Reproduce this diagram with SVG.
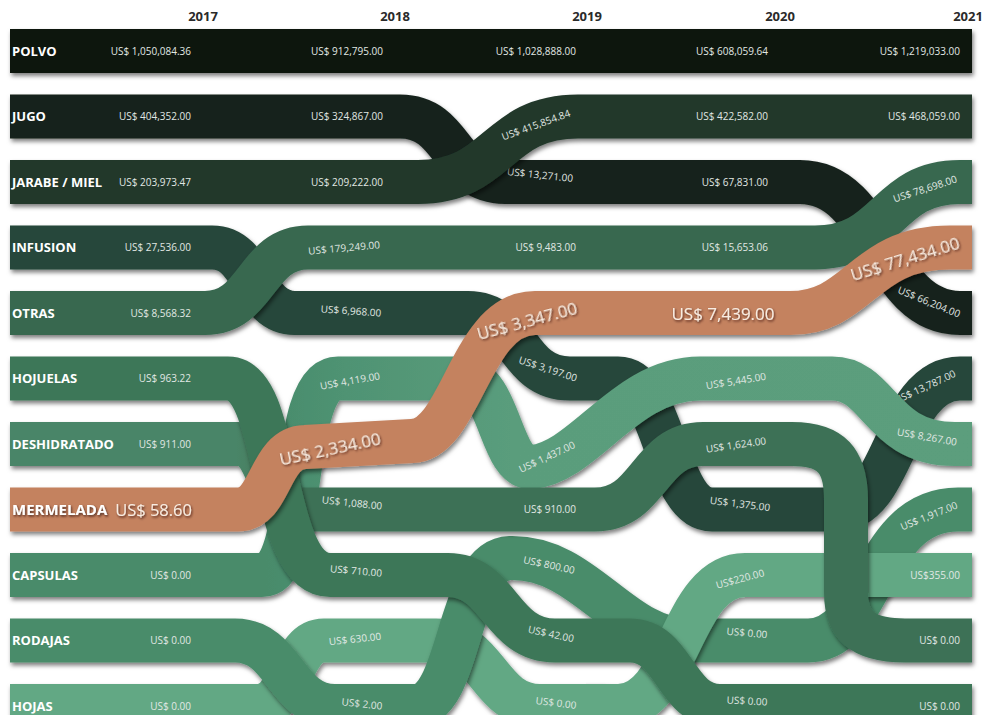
<svg xmlns="http://www.w3.org/2000/svg" width="986" height="715" viewBox="0 0 986 715">
  <defs>
    <!-- soft shadow under every ribbon; user-space region so flat (zero-height) paths still render -->
    <filter id="drop" filterUnits="userSpaceOnUse" x="0" y="0" width="986" height="715">
      <feDropShadow dx="1.5" dy="3" stdDeviation="2.2" flood-color="#000" flood-opacity="0.5"/>
    </filter>
    <filter id="lift" filterUnits="userSpaceOnUse" x="0" y="0" width="986" height="715">
      <feDropShadow dx="1" dy="1.5" stdDeviation="1" flood-color="#2a140a" flood-opacity="0.75"/>
    </filter>
    <linearGradient id="g-desh" gradientUnits="userSpaceOnUse" x1="0" y1="0" x2="986" y2="0">
      <stop offset="0" stop-color="#4a8567"/>
      <stop offset="0.24" stop-color="#4a8567"/>
      <stop offset="0.31" stop-color="#3d7156"/>
      <stop offset="1" stop-color="#3d7156"/>
    </linearGradient>
    <linearGradient id="g-caps" gradientUnits="userSpaceOnUse" x1="0" y1="0" x2="986" y2="0">
      <stop offset="0" stop-color="#488b6b"/>
      <stop offset="0.27" stop-color="#488b6b"/>
      <stop offset="0.35" stop-color="#4f9373"/>
      <stop offset="0.52" stop-color="#5a9d7c"/>
      <stop offset="1" stop-color="#5b9e7d"/>
    </linearGradient>
    <!-- keeps the later HOJAS segment from showing its cut end -->
    <clipPath id="clip-hojas-right">
      <rect x="586" y="0" width="400" height="715"/>
    </clipPath>
  </defs>
  <style>
    .band{fill:none;stroke-width:44;stroke-linecap:butt;stroke-linejoin:round;filter:url(#drop)}
    .cat{font-family:"Open Sans","Liberation Sans",sans-serif;font-weight:700;font-size:13px;fill:#ffffff}
    .val{font-family:"Open Sans","Liberation Sans",sans-serif;font-size:10px;fill:#e1e8e4}
    .end{text-anchor:end}
    .mid{text-anchor:middle}
    .big{font-family:"Open Sans","Liberation Sans",sans-serif;font-size:17px;fill:#f8ece2;filter:url(#lift)}
    .yr{font-family:"Open Sans","Liberation Sans",sans-serif;font-weight:700;font-size:13px;fill:#2a2a2a;text-anchor:middle}
  </style>

  <rect width="986" height="715" fill="#ffffff"/>

  <!-- year headers -->
  <g id="years">
    <text class="yr" x="203" y="21">2017</text>
    <text class="yr" x="395" y="21">2018</text>
    <text class="yr" x="587" y="21">2019</text>
    <text class="yr" x="780" y="21">2020</text>
    <text class="yr" x="968" y="21">2021</text>
  </g>

  <!-- ribbons, back to front -->
  <g id="polvo">
    <path class="band" stroke="#0b120e" d="M10,51 H972"/>
    <text class="cat" x="12" y="55.5">POLVO</text>
    <text class="val end" x="191" y="54.5">US$ 1,050,084.36</text>
    <text class="val end" x="383" y="54.5">US$ 912,795.00</text>
    <text class="val end" x="576" y="54.5">US$ 1,028,888.00</text>
    <text class="val end" x="768" y="54.5">US$ 608,059.64</text>
    <text class="val end" x="960" y="54.5">US$ 1,219,033.00</text>
  </g>

  <g id="jugo">
    <path class="band" stroke="#16231c" d="M10,116.5 H400 C455,116.5 450,182 505,182 H800 C880,182 880,313 960,313 H972"/>
    <text class="cat" x="12" y="121">JUGO</text>
    <text class="val end" x="191" y="120">US$ 404,352.00</text>
    <text class="val end" x="383" y="120">US$ 324,867.00</text>
    <text class="val mid" x="540" y="175" dy="0.35em" transform="rotate(6 540 175)">US$ 13,271.00</text>
    <text class="val end" x="768" y="185.5">US$ 67,831.00</text>
    <text class="val mid" x="929" y="302" dy="0.35em" transform="rotate(22 929 302)">US$ 66,204.00</text>
  </g>

  <g id="jarabe-miel">
    <path class="band" stroke="#21382b" d="M10,182 H418 C500,182 495,116.5 578,116.5 H972"/>
    <text class="cat" x="12" y="186.5">JARABE / MIEL</text>
    <text class="val end" x="191" y="185.5">US$ 203,973.47</text>
    <text class="val end" x="383" y="185.5">US$ 209,222.00</text>
    <text class="val mid" x="536" y="125" dy="0.35em" transform="rotate(-20 536 125)">US$ 415,854.84</text>
    <text class="val end" x="768" y="120">US$ 422,582.00</text>
    <text class="val end" x="960" y="120">US$ 468,059.00</text>
  </g>

  <g id="infusion">
    <path class="band" stroke="#26463a" d="M10,247.5 H212 C255,247.5 252,313 295,313 H468 C520,313 515,378.5 570,378.5 H618 C665,378.5 665,509.5 712,509.5 H838 C895,509.5 895,378.5 960,378.5 H972"/>
    <text class="cat" x="12" y="252">INFUSION</text>
    <text class="val end" x="191" y="251">US$ 27,536.00</text>
    <text class="val mid" x="351" y="311" dy="0.35em" transform="rotate(4 351 311)">US$ 6,968.00</text>
    <text class="val mid" x="548" y="369" dy="0.35em" transform="rotate(18 548 369)">US$ 3,197.00</text>
    <text class="val mid" x="740" y="504" dy="0.35em" transform="rotate(7 740 504)">US$ 1,375.00</text>
    <text class="val mid" x="925" y="387" dy="0.35em" transform="rotate(-25 925 387)">US$ 13,787.00</text>
  </g>

  <g id="otras">
    <path class="band" stroke="#386850" d="M10,313 H205 C258,313 255,247.5 308,247.5 H815 C890,247.5 885,182 960,182 H972"/>
    <text class="cat" x="12" y="317.5">OTRAS</text>
    <text class="val end" x="191" y="316.5">US$ 8,568.32</text>
    <text class="val mid" x="344" y="248" dy="0.35em" transform="rotate(-5 344 248)">US$ 179,249.00</text>
    <text class="val end" x="576" y="251">US$ 9,483.00</text>
    <text class="val end" x="768" y="251">US$ 15,653.06</text>
    <text class="val mid" x="925" y="189" dy="0.35em" transform="rotate(-18 925 189)">US$ 78,698.00</text>
  </g>

  <g id="hojas">
    <path class="band" stroke="#62a884" d="M10,706 H258 C292,706 290,640.5 324,640.5 H436 C488,640.5 488,706 540,706 H605"/>
    <text class="cat" x="12" y="710.5">HOJAS</text>
    <text class="val end" x="191" y="709.5">US$ 0.00</text>
    <text class="val mid" x="355" y="639" dy="0.35em" transform="rotate(-6 355 639)">US$ 630.00</text>
    <text class="val mid" x="556" y="703" dy="0.35em" transform="rotate(7 556 703)">US$ 0.00</text>
  </g>

  <g id="rodajas">
    <path class="band" stroke="#4a8c6b" d="M10,640.5 H235 C285,640.5 285,706 335,706 H415 C462,706 456,560 510,558 C585,556 620,640.5 690,640.5 H808 C875,640.5 870,509.5 958,509.5 H972"/>
    <text class="cat" x="12" y="645">RODAJAS</text>
    <text class="val end" x="191" y="644">US$ 0.00</text>
    <text class="val mid" x="362" y="704" dy="0.35em" transform="rotate(6 362 704)">US$ 2.00</text>
    <text class="val mid" x="549" y="565" dy="0.35em" transform="rotate(12 549 565)">US$ 800.00</text>
    <text class="val mid" x="747" y="633" dy="0.35em" transform="rotate(5 747 633)">US$ 0.00</text>
    <text class="val mid" x="929" y="516" dy="0.35em" transform="rotate(-22 929 516)">US$ 1,917.00</text>
  </g>

  <g id="hojas-2020" clip-path="url(#clip-hojas-right)">
    <path class="band" stroke="#62a884" d="M548,706 H618 C680,706 680,575 745,575 H972"/>
    <text class="val mid" x="740" y="579" dy="0.35em" transform="rotate(-15 740 579)">US$220.00</text>
    <text class="val end" x="960" y="578.5">US$355.00</text>
  </g>

  <g id="capsulas">
    <path class="band" stroke="url(#g-caps)" d="M10,575 H262 C308,575 288,378.5 338,378.5 H462 C500,378.5 500,470 532,467 C585,462 625,378.5 700,378.5 H832 C880,378.5 880,444 955,444 H972"/>
    <text class="cat" x="12" y="579.5">CAPSULAS</text>
    <text class="val end" x="191" y="578.5">US$ 0.00</text>
    <text class="val mid" x="350" y="381" dy="0.35em" transform="rotate(-10 350 381)">US$ 4,119.00</text>
    <text class="val mid" x="547" y="457" dy="0.35em" transform="rotate(-25 547 457)">US$ 1,437.00</text>
    <text class="val mid" x="736" y="381" dy="0.35em" transform="rotate(-9 736 381)">US$ 5,445.00</text>
    <text class="val mid" x="927" y="437" dy="0.35em" transform="rotate(10 927 437)">US$ 8,267.00</text>
  </g>

  <g id="deshidratado">
    <path class="band" stroke="url(#g-desh)" d="M10,444 H238 C272,444 265,509.5 302,509.5 H595 C650,509.5 648,444 703,444 H792 C833,444 846,462 846,500 L846,592 C846,628 866,640.5 905,640.5 H972"/>
    <text class="cat" x="12" y="448.5">DESHIDRATADO</text>
    <text class="val end" x="191" y="447.5">US$ 911.00</text>
    <text class="val mid" x="352" y="503" dy="0.35em" transform="rotate(6 352 503)">US$ 1,088.00</text>
    <text class="val end" x="576" y="513">US$ 910.00</text>
    <text class="val mid" x="736" y="445" dy="0.35em" transform="rotate(-8 736 445)">US$ 1,624.00</text>
    <text class="val end" x="960" y="644">US$ 0.00</text>
  </g>

  <g id="hojuelas">
    <path class="band" stroke="#3e7759" d="M10,378.5 H228 C282,378.5 268,575 330,575 H448 C500,575 500,640.5 555,640.5 H630 C675,640.5 675,706 720,706 H972"/>
    <text class="cat" x="12" y="383">HOJUELAS</text>
    <text class="val end" x="191" y="382">US$ 963.22</text>
    <text class="val mid" x="356" y="571" dy="0.35em" transform="rotate(5 356 571)">US$ 710.00</text>
    <text class="val mid" x="551" y="634" dy="0.35em" transform="rotate(12 551 634)">US$ 42.00</text>
    <text class="val mid" x="747" y="701" dy="0.35em" transform="rotate(3 747 701)">US$ 0.00</text>
    <text class="val end" x="960" y="709.5">US$ 0.00</text>
  </g>

  <g id="mermelada">
    <path class="band" stroke="#c4825f" d="M10,509.5 H238 C272,509.5 268,448 305,447 L412,441 C462,439 470,313 535,313 H790 C860,313 862,247.5 950,247.5 H972"/>
    <text class="cat" x="12" y="515" style="font-size:15px;filter:url(#lift)">MERMELADA</text>
    <text class="big end" x="192" y="515.5" style="font-size:16.5px">US$ 58.60</text>
    <text class="big mid" x="330" y="449" dy="0.35em" transform="rotate(-12 330 449)">US$ 2,334.00</text>
    <text class="big mid" x="527" y="321" dy="0.35em" transform="rotate(-15 527 321)">US$ 3,347.00</text>
    <text class="big mid" x="723" y="314" dy="0.35em">US$ 7,439.00</text>
    <text class="big mid" x="905" y="259" dy="0.35em" transform="rotate(-17 905 259)">US$ 77,434.00</text>
  </g>
</svg>
